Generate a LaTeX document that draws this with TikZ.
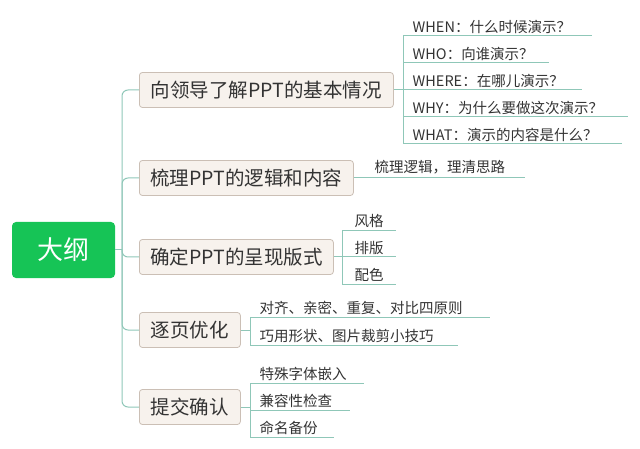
\documentclass[tikz,border=0pt]{standalone}
\usepackage{fontspec}
\setmainfont{Noto Sans CJK SC}
\begin{document}
\begin{tikzpicture}[x=1pt,y=-1pt,
  ln/.style={draw=lc,line width=1pt},
  br/.style={draw=bd,fill=bf,rounded corners=3pt,line width=0.8pt,inner sep=0pt,font=\fontsize{19.5}{20}\selectfont,text=black!80,anchor=west,minimum height=35pt},
  lf/.style={anchor=south west,inner sep=0.5pt,font=\fontsize{14.5}{15}\selectfont,text=black!80}]
\definecolor{lc}{HTML}{8FC7B8}
\definecolor{bd}{HTML}{CBBFB5}
\definecolor{bf}{HTML}{F7F2ED}
\useasboundingbox (0,0) rectangle (640,449);
\node[fill={rgb,255:red,22;green,196;blue,86},rounded corners=4pt,minimum width=103pt,minimum height=56pt,text=white,font=\fontsize{26}{26}\selectfont] (root) at (63.5,250) {大纲};
\node[br,minimum width=254pt] (b1) at (139,90) {向领导了解PPT的基本情况};
\node[br,minimum width=214pt] (b2) at (139,178) {梳理PPT的逻辑和内容};
\node[br,minimum width=194pt] (b3) at (139,257) {确定PPT的呈现版式};
\node[br,minimum width=101pt] (b4) at (139,330) {逐页优化};
\node[br,minimum width=101pt] (b5) at (139,407) {提交确认};
\coordinate (t) at (122,250);
\draw[ln,rounded corners=6pt] (b1.west) -| (t) |- (b5.west);
\draw[ln,rounded corners=6pt] (b2.west) -| (t);
\draw[ln,rounded corners=6pt] (b3.west) -| (t);
\draw[ln,rounded corners=6pt] (b4.west) -| (t);
\draw[ln] (root.east) -- (t);
% group 1
\draw[ln] (403,36) -- (403,144);
\draw[ln] (b1.east) -- (403,90);
\foreach \y/\e in {36/592,63/549,90/582,117/628,144/622} \draw[ln] (403,\y) -- (\e,\y);
\node[lf] (l11) at (412,34) {WHEN：什么时候演示？};
\node[lf] (l12) at (412,61) {WHO：向谁演示？};
\node[lf] (l13) at (412,88) {WHERE：在哪儿演示？};
\node[lf] (l14) at (412,115) {WHY：为什么要做这次演示？};
\node[lf] (l15) at (412,142) {WHAT：演示的内容是什么？};
% group 2
\draw[ln] (b2.east) -- (525,178);
\node[lf] (l21) at (374,175) {梳理逻辑，理清思路};
% group 3
\draw[ln] (342,231) -- (342,284);
\draw[ln] (b3.east) -- (342,257);
\foreach \y in {231,257,284} \draw[ln] (342,\y) -- (396,\y);
\node[lf] (l31) at (354,228) {风格};
\node[lf] (l32) at (354,255) {排版};
\node[lf] (l33) at (354,282) {配色};
% group 4
\draw[ln] (250,317) -- (250,345);
\draw[ln] (b4.east) -- (250,330);
\draw[ln] (250,317) -- (490,317);
\draw[ln] (250,345) -- (458,345);
\node[lf] (l41) at (259,315) {对齐、亲密、重复、对比四原则};
\node[lf] (l42) at (259,343) {巧用形状、图片裁剪小技巧};
% group 5
\draw[ln] (250,383) -- (250,437);
\draw[ln] (b5.east) -- (250,407);
\foreach \y/\e in {383/364,410/350,437/334} \draw[ln] (250,\y) -- (\e,\y);
\node[lf] (l51) at (259,381) {特殊字体嵌入};
\node[lf] (l52) at (259,408) {兼容性检查};
\node[lf] (l53) at (259,435) {命名备份};
\end{tikzpicture}
\end{document}
